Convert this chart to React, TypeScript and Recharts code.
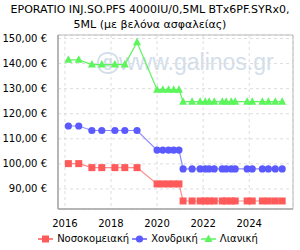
import React from "react";
import {
  LineChart,
  Line,
  XAxis,
  YAxis,
  CartesianGrid,
  ReferenceArea,
} from "recharts";

const titleLines = [
  "EPORATIO INJ.SO.PFS 4000IU/0,5ML BTx6PF.SYRx0,",
  "5ML (με βελόνα ασφαλείας)",
];

// price dates as fractional years
const dates = [
  2016.15, 2016.6, 2017.17, 2017.6, 2018.17, 2018.6, 2019.13,
  2020.0, 2020.25, 2020.5, 2020.72, 2020.95,
  2021.13, 2021.52, 2021.87, 2022.09, 2022.26, 2022.48,
  2022.83, 2023.0, 2023.22, 2023.39, 2023.91, 2024.13,
  2024.57, 2024.83, 2025.13, 2025.43,
];

const hospital = [
  100.1, 100.1, 98.5, 98.5, 98.5, 98.5, 98.5,
  92, 92, 92, 92, 92,
  85.2, 85.2, 85.2, 85.2, 85.2, 85.2,
  85.2, 85.2, 85.2, 85.2, 85.2, 85.2,
  85.2, 85.2, 85.2, 85.2,
];

const wholesale = [
  115.1, 115.1, 113.3, 113.3, 113.3, 113.3, 113.3,
  105.5, 105.5, 105.5, 105.5, 105.5,
  98, 98, 98, 98, 98, 98,
  98, 98, 98, 98, 98, 98,
  98, 98, 98, 98,
];

const retail = [
  141.5, 141.5, 139.6, 139.6, 139.6, 139.6, 148.5,
  129.6, 129.6, 129.6, 129.6, 129.6,
  124.8, 124.8, 124.8, 124.8, 124.8, 124.8,
  124.8, 124.8, 124.8, 124.8, 124.8, 124.8,
  124.8, 124.8, 124.8, 124.8,
];

const yTicks = [90, 100, 110, 120, 130, 140, 150];
const xTicks = [2016, 2018, 2020, 2022, 2024];

const seriesNames = ["Νοσοκομειακή", "Χονδρική", "Λιανική"];

const data = dates.map((t, i) => ({
  t,
  hospital: hospital[i],
  wholesale: wholesale[i],
  retail: retail[i],
}));

const FONT = "'DejaVu Sans', sans-serif";
const RED = "#ff5a5a";
const BLUE = "#5a5aff";
const GREEN = "#5cf55c";
const WM = "#d3deeb";

const Square = (props: any) => {
  const { cx, cy, key } = props;
  if (cx == null || cy == null) return null;
  return <rect key={key} x={cx - 3.5} y={cy - 3.5} width={7} height={7} fill={RED} />;
};

const Circle = (props: any) => {
  const { cx, cy, key } = props;
  if (cx == null || cy == null) return null;
  return <circle key={key} cx={cx} cy={cy} r={3.6} fill={BLUE} />;
};

const Triangle = (props: any) => {
  const { cx, cy, key } = props;
  if (cx == null || cy == null) return null;
  return (
    <polygon
      key={key}
      points={`${cx},${cy - 4.5} ${cx + 4},${cy + 3} ${cx - 4},${cy + 3}`}
      fill={GREEN}
    />
  );
};

const LegendIcon = ({ color, kind }: { color: string; kind: string }) => (
  <svg width={15} height={10} style={{ marginRight: 4 }}>
    <line x1={0} y1={5} x2={15} y2={5} stroke={color} strokeWidth={1.5} />
    {kind === "square" && <rect x={4} y={1.5} width={7} height={7} fill={color} />}
    {kind === "circle" && <circle cx={7.5} cy={5} r={3.6} fill={color} />}
    {kind === "triangle" && <polygon points="7.5,0.5 11.5,8 3.5,8" fill={color} />}
  </svg>
);

export default function App() {
  const legend = [
    { name: seriesNames[0], color: RED, kind: "square" },
    { name: seriesNames[1], color: BLUE, kind: "circle" },
    { name: seriesNames[2], color: GREEN, kind: "triangle" },
  ];

  return (
    <div
      style={{
        position: "absolute",
        left: 0,
        top: 0,
        width: 300,
        height: 250,
        background: "#fff",
        fontFamily: FONT,
        overflow: "hidden",
      }}
    >
      <div
        style={{
          position: "absolute",
          top: 1.5,
          left: 0,
          width: 300,
          textAlign: "center",
          fontSize: 11,
          lineHeight: "15px",
          color: "#000",
          whiteSpace: "nowrap",
        }}
      >
        {titleLines.map((l) => (
          <div key={l}>{l}</div>
        ))}
      </div>

      {/* watermark */}
      <div style={{ position: "absolute", left: 97, top: 49, color: WM, display: "flex", alignItems: "center" }}>
        <div
          style={{
            width: 18,
            height: 18,
            borderRadius: 10,
            border: `2px solid ${WM}`,
            fontSize: 16,
            fontWeight: "bold",
            lineHeight: "15px",
            textAlign: "center",
            fontFamily: "'Liberation Sans', sans-serif",
          }}
        >
          g
        </div>
        <span style={{ fontSize: 23, fontFamily: "'Liberation Sans', sans-serif" }}>
          www.galinos.gr
        </span>
      </div>

      <div style={{ position: "absolute", left: 0, top: 0 }}>
        <LineChart
          width={300}
          height={250}
          data={data}
          margin={{ top: 35, right: 7, left: 0, bottom: 21 }}
        >
          <CartesianGrid stroke="#dddddd" strokeDasharray="3 3" />
          <XAxis
            dataKey="t"
            type="number"
            domain={[2015.7, 2025.9]}
            ticks={xTicks}
            height={20}
            axisLine={{ stroke: "#aaaaaa", strokeWidth: 1.5 }}
            tickLine={false}
            tickMargin={5}
            tick={{ fontSize: 10, fill: "#000", fontFamily: FONT }}
          />
          <YAxis
            type="number"
            domain={[82, 151.4]}
            ticks={yTicks}
            width={58}
            axisLine={{ stroke: "#aaaaaa", strokeWidth: 1.5 }}
            tickLine={false}
            tickMargin={5}
            tick={{ fontSize: 10, fill: "#000", fontFamily: FONT }}
            tickFormatter={(v: number) => v.toFixed(2).replace(".", ",") + " €"}
          />
          <ReferenceArea
            x1={2015.7}
            x2={2025.9}
            y1={82}
            y2={151.4}
            fill="none"
            stroke="#bbbbbb"
            strokeOpacity={1}
            fillOpacity={0}
          />
          <Line
            dataKey="retail"
            name={seriesNames[2]}
            stroke={GREEN}
            strokeWidth={1.2}
            dot={Triangle}
            activeDot={false}
            isAnimationActive={false}
          />
          <Line
            dataKey="wholesale"
            name={seriesNames[1]}
            stroke={BLUE}
            strokeOpacity={0.7}
            strokeWidth={1.2}
            dot={Circle}
            activeDot={false}
            isAnimationActive={false}
          />
          <Line
            dataKey="hospital"
            name={seriesNames[0]}
            stroke={RED}
            strokeOpacity={0.7}
            strokeWidth={1.2}
            dot={Square}
            activeDot={false}
            isAnimationActive={false}
          />
        </LineChart>
      </div>

      <div
        style={{
          position: "absolute",
          top: 232,
          left: 0,
          width: 296,
          display: "flex",
          justifyContent: "center",
          alignItems: "center",
          fontSize: 10,
          lineHeight: "14px",
          color: "#000",
        }}
      >
        {legend.map((it, i) => (
          <div key={it.name} style={{ display: "flex", alignItems: "center", marginLeft: i ? 3 : 0 }}>
            <LegendIcon color={it.color} kind={it.kind} />
            <span>{it.name}</span>
          </div>
        ))}
      </div>
    </div>
  );
}
